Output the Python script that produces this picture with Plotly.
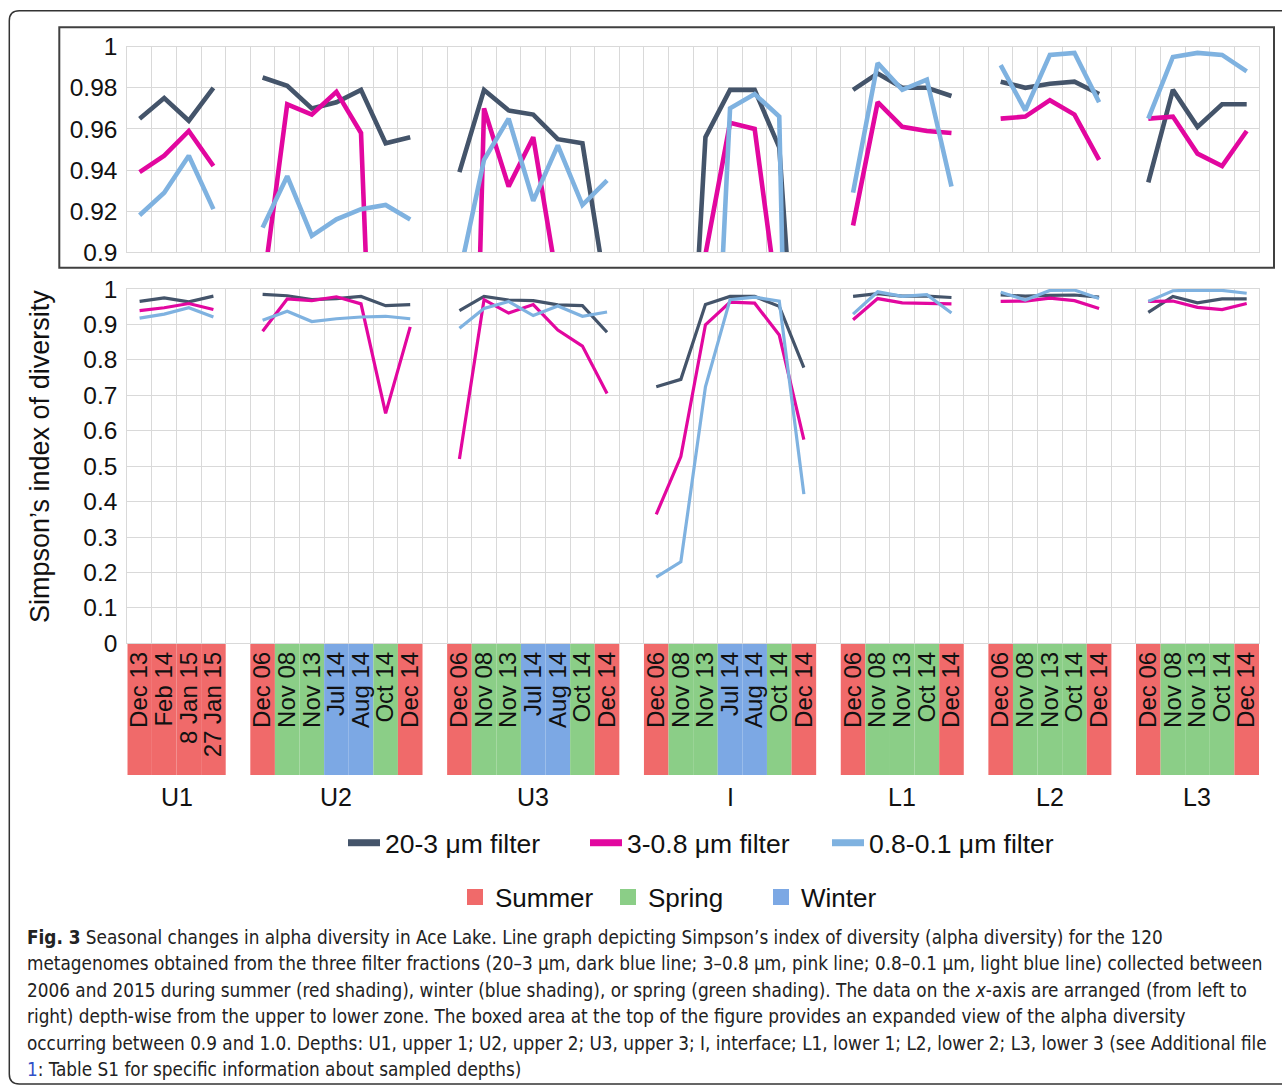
import plotly.graph_objects as go

# ---------------- data ----------------
group_names = ["U1", "U2", "U3", "I", "L1", "L2", "L3"]
group_sizes = [4, 7, 7, 7, 5, 5, 5]

sample_dates = [
    "Dec 13", "Feb 14", "8 Jan 15", "27 Jan 15",
    "Dec 06", "Nov 08", "Nov 13", "Jul 14", "Aug 14", "Oct 14", "Dec 14",
    "Dec 06", "Nov 08", "Nov 13", "Jul 14", "Aug 14", "Oct 14", "Dec 14",
    "Dec 06", "Nov 08", "Nov 13", "Jul 14", "Aug 14", "Oct 14", "Dec 14",
    "Dec 06", "Nov 08", "Nov 13", "Oct 14", "Dec 14",
    "Dec 06", "Nov 08", "Nov 13", "Oct 14", "Dec 14",
    "Dec 06", "Nov 08", "Nov 13", "Oct 14", "Dec 14",
]

sample_seasons = [
    "Summer", "Summer", "Summer", "Summer",
    "Summer", "Spring", "Spring", "Winter", "Winter", "Spring", "Summer",
    "Summer", "Spring", "Spring", "Winter", "Winter", "Spring", "Summer",
    "Summer", "Spring", "Spring", "Winter", "Winter", "Spring", "Summer",
    "Summer", "Spring", "Spring", "Spring", "Summer",
    "Summer", "Spring", "Spring", "Spring", "Summer",
    "Summer", "Spring", "Spring", "Spring", "Summer",
]

simpson_20_3 = [
    0.965, 0.975, 0.964, 0.980,
    0.985, 0.981, 0.970, 0.973, 0.979, 0.953, 0.956,
    0.939, 0.979, 0.969, 0.967, 0.955, 0.953, 0.878,
    0.724, 0.745, 0.956, 0.979, 0.979, 0.951, 0.778,
    0.979, 0.987, 0.980, 0.980, 0.976,
    0.983, 0.980, 0.982, 0.983, 0.977,
    0.934, 0.979, 0.961, 0.972, 0.972,
]
simpson_3_08 = [
    0.939, 0.947, 0.959, 0.942,
    0.881, 0.972, 0.967, 0.978, 0.958, 0.649, 0.893,
    0.520, 0.970, 0.932, 0.956, 0.884, 0.839, 0.705,
    0.364, 0.527, 0.899, 0.963, 0.960, 0.870, 0.575,
    0.913, 0.973, 0.961, 0.959, 0.958,
    0.965, 0.966, 0.974, 0.967, 0.945,
    0.965, 0.966, 0.948, 0.942, 0.959,
]
simpson_08_01 = [
    0.918, 0.929, 0.947, 0.921,
    0.912, 0.937, 0.908, 0.916, 0.921, 0.923, 0.916,
    0.889, 0.945, 0.965, 0.925, 0.952, 0.923, 0.935,
    0.187, 0.230, 0.724, 0.970, 0.977, 0.966, 0.421,
    0.929, 0.992, 0.979, 0.984, 0.932,
    0.991, 0.969, 0.996, 0.997, 0.973,
    0.965, 0.995, 0.997, 0.996, 0.988,
]

series_names = ["20-3 μm filter", "3-0.8 μm filter", "0.8-0.1 μm filter"]
series_colors = ["#44546A", "#E2079F", "#7FB2E0"]
season_names = ["Summer", "Spring", "Winter"]
season_colors = ["#F06A6A", "#8BCE87", "#7CA8E4"]

top_ticks = [0.9, 0.92, 0.94, 0.96, 0.98, 1.0]
top_ticktext = ["0.9", "0.92", "0.94", "0.96", "0.98", "1"]
bottom_ticks = [i / 10 for i in range(11)]
bottom_ticktext = ["0", "0.1", "0.2", "0.3", "0.4", "0.5", "0.6", "0.7", "0.8", "0.9", "1"]

caption_lines = [
    "<b>Fig. 3</b> Seasonal changes in alpha diversity in Ace Lake. Line graph depicting Simpson’s index of diversity (alpha diversity) for the 120",
    "metagenomes obtained from the three filter fractions (20–3 μm, dark blue line; 3–0.8 μm, pink line; 0.8–0.1 μm, light blue line) collected between",
    "2006 and 2015 during summer (red shading), winter (blue shading), or spring (green shading). The data on the <i>x</i>-axis are arranged (from left to",
    "right) depth-wise from the upper to lower zone. The boxed area at the top of the figure provides an expanded view of the alpha diversity",
    "occurring between 0.9 and 1.0. Depths: U1, upper 1; U2, upper 2; U3, upper 3; I, interface; L1, lower 1; L2, lower 2; L3, lower 3 (see Additional file",
    "<span style='color:#3050c8'>1</span>: Table S1 for specific information about sampled depths)",
]

# ---------------- helpers ----------------
W, H = 1282, 1088


def px(x):
    return x / W


def py(y):
    return 1 - y / H


# categorical slot positions (one empty slot between depth groups)
x_pos = []
group_centers = []
pos = 0
for n in group_sizes:
    xs = list(range(pos, pos + n))
    x_pos.extend(xs)
    group_centers.append((xs[0] + xs[-1]) / 2)
    pos += n + 1
n_slots = pos - 1
x_range = [-0.5, n_slots - 0.5]
boundaries = [b - 0.5 for b in range(n_slots + 1)]


def with_gaps(vals):
    xs, ys = [], []
    k = 0
    for gi, n in enumerate(group_sizes):
        if gi:
            xs.append(None)
            ys.append(None)
        xs += x_pos[k:k + n]
        ys += vals[k:k + n]
        k += n
    return xs, ys


FONT = "Liberation Sans, Arial, sans-serif"
GRID = "#D9D9D9"

fig = go.Figure()

series_vals = [simpson_20_3, simpson_3_08, simpson_08_01]
for name, color, vals in zip(series_names, series_colors, series_vals):
    xs, ys = with_gaps(vals)
    # expanded view (top box)
    fig.add_trace(go.Scatter(x=xs, y=ys, mode="lines", name=name, legendgroup=name,
                             showlegend=False, line=dict(color=color, width=4.6),
                             xaxis="x", yaxis="y", connectgaps=False))
    # full view
    fig.add_trace(go.Scatter(x=xs, y=ys, mode="lines", name=name, legendgroup=name,
                             showlegend=False, line=dict(color=color, width=3.2),
                             xaxis="x2", yaxis="y2", connectgaps=False))

# legend entries for filters
for name, color in zip(series_names, series_colors):
    fig.add_trace(go.Scatter(x=[None], y=[None], mode="lines", name=name, legendgroup=name,
                             line=dict(color=color, width=7), xaxis="x2", yaxis="y2",
                             legend="legend"))

# legend entries for seasons
for name, color in zip(season_names, season_colors):
    fig.add_trace(go.Scatter(x=[None], y=[None], mode="markers", name=name,
                             marker=dict(symbol="square", size=16, color=color),
                             xaxis="x2", yaxis="y2", legend="legend2"))

# season shading cells beneath the x axis
color_of = dict(zip(season_names, season_colors))
shapes = []
for xp, season in zip(x_pos, sample_seasons):
    shapes.append(dict(type="rect", xref="x2", yref="paper",
                       x0=xp - 0.5, x1=xp + 0.5, y0=py(775), y1=py(643.8),
                       fillcolor=color_of[season], line=dict(width=0), layer="below"))

# box around expanded view
shapes.append(dict(type="rect", xref="paper", yref="paper",
                   x0=px(59.3), x1=px(1274), y0=py(267.7), y1=py(27.3),
                   line=dict(color="#404040", width=2), fillcolor="rgba(0,0,0,0)"))

# outer figure frame (rounded left corners, open to the right)
r = 10
frame = (f"M {px(1300)},{py(10.7)} L {px(9.3 + r)},{py(10.7)} "
         f"Q {px(9.3)},{py(10.7)} {px(9.3)},{py(10.7 + r)} "
         f"L {px(9.3)},{py(1084 - r)} Q {px(9.3)},{py(1084)} {px(9.3 + r)},{py(1084)} "
         f"L {px(1300)},{py(1084)}")
shapes.append(dict(type="path", xref="paper", yref="paper", path=frame,
                   line=dict(color="#333333", width=1.5)))

annotations = []
for name, cx in zip(group_names, group_centers):
    annotations.append(dict(text=name, x=cx, y=py(797), xref="x2", yref="paper",
                            showarrow=False, xanchor="center", yanchor="middle",
                            font=dict(family=FONT, size=25, color="#111")))

annotations.append(dict(text="Simpson’s index of diversity", x=px(40), y=py(457),
                        xref="paper", yref="paper", showarrow=False, textangle=-90,
                        xanchor="center", yanchor="middle",
                        font=dict(family=FONT, size=27, color="#111")))

cap_font = dict(family="Liberation Sans Narrow, DejaVu Sans Condensed, Arial Narrow, sans-serif",
                size=18.8, color="#222")
cap_y = [937, 963.5, 990, 1016.5, 1043, 1069.5]
for line, yy in zip(caption_lines, cap_y):
    annotations.append(dict(text=line, x=px(25), y=py(yy), xref="paper", yref="paper",
                            showarrow=False, xanchor="left", yanchor="middle", align="left",
                            font=cap_font))

axis_common = dict(showgrid=True, gridcolor=GRID, gridwidth=1, zeroline=False,
                   showline=True, linecolor=GRID, linewidth=1, mirror=True,
                   fixedrange=True, automargin=False)

fig.update_layout(
    width=W, height=H,
    margin=dict(l=0, r=0, t=0, b=0, pad=0, autoexpand=False),
    paper_bgcolor="white", plot_bgcolor="white",
    font=dict(family=FONT, color="#111"),
    shapes=shapes,
    annotations=annotations,
    xaxis=dict(domain=[px(127.3), px(1259)], range=x_range, anchor="y",
               tickmode="array", tickvals=boundaries, showticklabels=False, ticks="",
               **axis_common),
    yaxis=dict(domain=[py(252.3), py(46.7)], range=[0.9, 1.0], anchor="x",
               tickmode="array", tickvals=top_ticks, ticktext=top_ticktext,
               tickfont=dict(family=FONT, size=24.5, color="#111"), ticks="",
               ticklabelstandoff=4, **axis_common),
    xaxis2=dict(domain=[px(127.3), px(1259)], range=x_range, anchor="y2",
                tickmode="array", tickvals=x_pos, ticktext=sample_dates, tickangle=-90,
                tickfont=dict(family=FONT, size=24, color="#111"), ticks="",
                ticklabelstandoff=-2, automargin=False,
                showgrid=False, zeroline=False, showline=True, linecolor=GRID,
                linewidth=1, mirror=True, fixedrange=True,
                minor=dict(tickmode="array", tickvals=boundaries, showgrid=True,
                           gridcolor=GRID, gridwidth=1, ticks="")),
    yaxis2=dict(domain=[py(643.3), py(289)], range=[0, 1.0], anchor="x2",
                tickmode="array", tickvals=bottom_ticks, ticktext=bottom_ticktext,
                tickfont=dict(family=FONT, size=24.5, color="#111"), ticks="",
                ticklabelstandoff=4, **axis_common),
    legend=dict(orientation="h", x=px(343), xanchor="left", y=py(843), yanchor="middle",
                font=dict(family=FONT, size=26.5, color="#111"), bgcolor="rgba(0,0,0,0)",
                itemwidth=32, entrywidth=195, entrywidthmode="pixels", tracegroupgap=0),
    legend2=dict(orientation="h", x=px(455), xanchor="left", y=py(897), yanchor="middle",
                 font=dict(family=FONT, size=26, color="#111"), bgcolor="rgba(0,0,0,0)",
                 itemwidth=30, entrywidth=108, entrywidthmode="pixels"),
    showlegend=True,
)

fig.write_html("out.html",
               config={"displayModeBar": False},
               post_script="document.body.style.margin='0px';document.body.style.overflow='hidden';")
